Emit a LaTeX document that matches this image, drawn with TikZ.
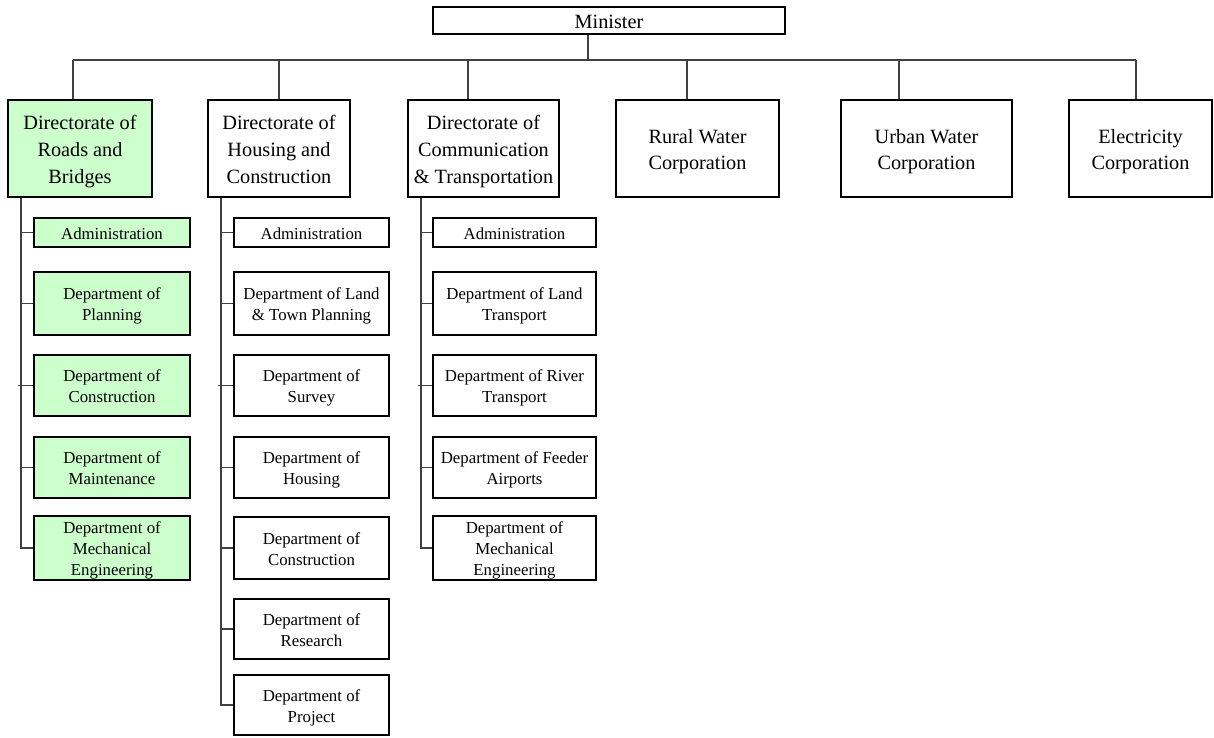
\documentclass[tikz,border=0pt]{standalone}
\usepackage{fontspec}
\setmainfont{Liberation Serif}
\definecolor{deptgreen}{HTML}{CCFFCC}
% struts that give every text block a height of whole lines, set a little low
\newcommand\linetop{\rule{0pt}{\dimexpr0.7\baselineskip+1.9pt\relax}}
\newcommand\linebot{\rule[\dimexpr-0.3\baselineskip+1.9pt\relax]{0pt}{\dimexpr0.3\baselineskip-1.9pt\relax}}
\begin{document}
\begin{tikzpicture}[x=0.75pt,y=-0.75pt,
  box/.style 2 args={draw=black,line width=1.5pt,inner sep=0pt,align=center,
    minimum width={#1*0.75pt},minimum height={#2*0.75pt}},
  big/.style={font=\fontsize{15.2pt}{20pt}\selectfont},
  small/.style={font=\fontsize{12.6pt}{15.9pt}\selectfont},
  hl/.style={fill=deptgreen},
  link/.style={draw=black!75,line width=0.8pt},
]
\useasboundingbox (0,0) rectangle (1214,738);

% top level
\node[box={352}{27},big] (minister) at (609,20.5) {\linetop Minister\linebot};

% directorates and corporations
\node[box={144}{97},big,hl] (roads)   at (80,148.5)   {\linetop Directorate of\\Roads and\\Bridges\linebot};
\node[box={142}{97},big]    (housing) at (279,148.5)  {\linetop Directorate of\\Housing and\\Construction\linebot};
\node[box={151}{97},big]    (comm)    at (483.5,148.5){\linetop Directorate of\\Communication\\\& Transportation\linebot};
\node[box={163}{97},big]    (rural)   at (697.5,148.5){\linetop Rural Water\\Corporation\linebot};
\node[box={171}{97},big]    (urban)   at (926.5,148.5){\linetop Urban Water\\Corporation\linebot};
\node[box={143}{97},big]    (elec)    at (1140.5,148.5){\linetop Electricity\\Corporation\linebot};

% Roads and Bridges departments
\node[box={156}{29},small,hl] (rd1) at (112,232.5) {\linetop Administration\linebot};
\node[box={156}{63},small,hl] (rd2) at (112,303.5) {\linetop Department of\\Planning\linebot};
\node[box={156}{61},small,hl] (rd3) at (112,385.5) {\linetop Department of\\Construction\linebot};
\node[box={156}{61},small,hl] (rd4) at (112,467.5) {\linetop Department of\\Maintenance\linebot};
\node[box={156}{62},small,hl] (rd5) at (112,548)   {\linetop Department of\\Mechanical\\Engineering\linebot};

% Housing and Construction departments
\node[box={155}{29},small] (hs1) at (311.5,232.5) {\linetop Administration\linebot};
\node[box={155}{63},small] (hs2) at (311.5,303.5) {\linetop Department of Land\\\& Town Planning\linebot};
\node[box={155}{61},small] (hs3) at (311.5,385.5) {\linetop Department of\\Survey\linebot};
\node[box={155}{61},small] (hs4) at (311.5,467.5) {\linetop Department of\\Housing\linebot};
\node[box={155}{62},small] (hs5) at (311.5,548)   {\linetop Department of\\Construction\linebot};
\node[box={155}{60},small] (hs6) at (311.5,629)   {\linetop Department of\\Research\linebot};
\node[box={155}{60},small] (hs7) at (311.5,705)   {\linetop Department of\\Project\linebot};

% Communication and Transportation departments
\node[box={163}{29},small] (cm1) at (514.5,232.5) {\linetop Administration\linebot};
\node[box={163}{63},small] (cm2) at (514.5,303.5) {\linetop Department of Land\\Transport\linebot};
\node[box={163}{61},small] (cm3) at (514.5,385.5) {\linetop Department of River\\Transport\linebot};
\node[box={163}{61},small] (cm4) at (514.5,467.5) {\linetop Department of Feeder\\Airports\linebot};
\node[box={163}{62},small] (cm5) at (514.5,548)   {\linetop Department of\\Mechanical\\Engineering\linebot};

% minister stem and bus
\coordinate (mstem) at (588,60);
\coordinate (busL) at (73,60);
\coordinate (busR) at (1136,60);
\draw[link] (minister.south -| mstem) -- (mstem);
\draw[link] (busL) -- (busR);
\foreach \n/\x in {roads/73,housing/279,comm/468,rural/687,urban/899,elec/1136}
  \draw[link] (\x,60) -- (\n.north -| \x,60);

% department stems
\draw[link] (roads.south -| 21,0) |- (rd5.west);
\foreach \i in {1,2,4} \draw[link] (21,0 |- rd\i.west) -- (rd\i.west);
\draw[link] (18,0 |- rd3.west) -- (rd3.west);

\draw[link] (housing.south -| 221,0) |- (hs7.west);
\foreach \i in {1,2,4,5,6} \draw[link] (221,0 |- hs\i.west) -- (hs\i.west);
\draw[link] (218,0 |- hs3.west) -- (hs3.west);

\draw[link] (comm.south -| 421,0) |- (cm5.west);
\foreach \i in {1,2,4} \draw[link] (421,0 |- cm\i.west) -- (cm\i.west);
\draw[link] (418,0 |- cm3.west) -- (cm3.west);
\end{tikzpicture}
\end{document}
